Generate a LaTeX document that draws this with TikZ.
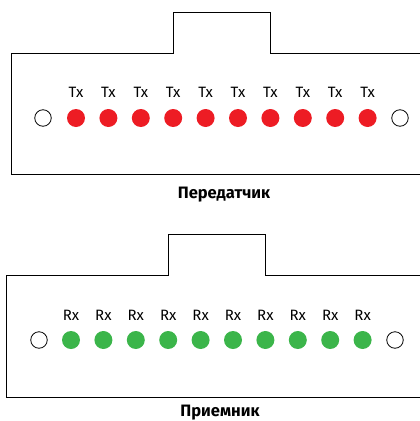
\documentclass[tikz,border=0pt]{standalone}
\usepackage{fontspec}
\setmainfont{Fira Sans}
\begin{document}
\begin{tikzpicture}[x=1pt, y=-1pt,
    % Colors
    cred/.style={fill={rgb,255:red,237;green,28;blue,36}},
    cgreen/.style={fill={rgb,255:red,59;green,181;blue,74}},
    % Styles
    outline/.style={line width=0.9pt, black},
    port/.style={circle, inner sep=0pt, minimum size=18pt},
    freeport/.style={circle, draw, line width=0.8pt, inner sep=0pt, minimum size=16.5pt},
    lbl/.style={font=\fontsize{15}{15}\selectfont, anchor=base, inner sep=0pt},
    caption/.style={font=\bfseries\fontsize{16.5}{16.5}\selectfont, anchor=base, inner sep=0pt},
  ]
  \useasboundingbox (0,0) rectangle (420,421);

  % Transmitter
  \draw[outline] (420,53) -- (270,53) -- (270,12) -- (173,12) -- (173,53)
    -- (11,53) -- (11,174) -- (420,174);
  \node[freeport] (tx-left) at (43,118) {};
  \foreach \i in {0,...,9} {
    \node[port, cred] (tx-\i) at ({76+32.4*\i},118) {};
    \node[lbl] (tx-lbl-\i) at ({76+32.4*\i},97.5) {Tx};
  }
  \node[freeport] (tx-right) at (400,118) {};
  \node[caption] (tx-caption) at (224,198) {Передатчик};

  % Receiver
  \draw[outline] (420,275) -- (265,275) -- (265,234.5) -- (168,234.5) -- (168,275)
    -- (6,275) -- (6,397) -- (420,397);
  \node[freeport] (rx-left) at (39,340) {};
  \foreach \i in {0,...,9} {
    \node[port, cgreen] (rx-\i) at ({71+32.4*\i},340) {};
    \node[lbl] (rx-lbl-\i) at ({71+32.4*\i},320) {Rx};
  }
  \node[freeport] (rx-right) at (395,340) {};
  \node[caption] (rx-caption) at (220,416.5) {Приемник};

\end{tikzpicture}
\end{document}
